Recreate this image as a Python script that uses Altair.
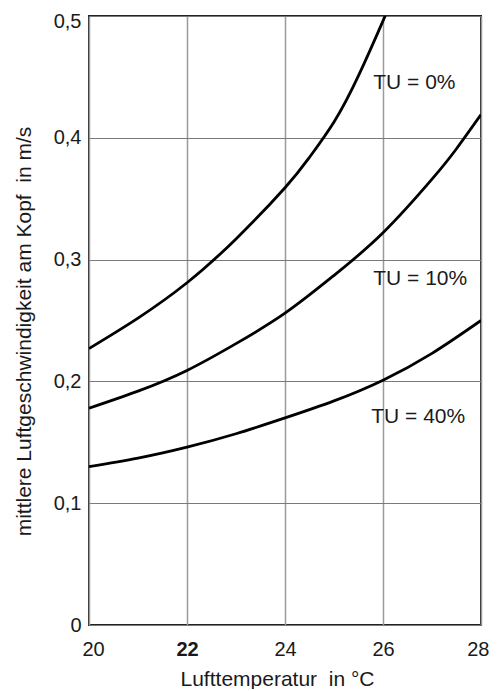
import altair as alt
import pandas as pd

# Series
tu0_x = [20, 21, 22, 23, 24, 24.5, 25, 25.5, 26, 26.04]
tu0_y = [0.227, 0.252, 0.281, 0.317, 0.359, 0.384, 0.413, 0.451, 0.496, 0.5]

tu10_x = [20, 21, 22, 23, 24, 25, 26, 27, 27.5, 28]
tu10_y = [0.178, 0.192, 0.209, 0.231, 0.256, 0.287, 0.322, 0.366, 0.391, 0.419]

tu40_x = [20, 21, 22, 23, 24, 25, 26, 27, 28]
tu40_y = [0.130, 0.137, 0.146, 0.157, 0.170, 0.184, 0.201, 0.223, 0.250]

label_text = ["TU = 0%", "TU = 10%", "TU = 40%"]
label_x = [25.8, 25.8, 25.76]
label_y = [0.445, 0.284, 0.171]

x_ticks = [20, 22, 24, 26, 28]
y_ticks = [0, 0.1, 0.2, 0.3, 0.4, 0.5]

x_title = "Lufttemperatur\u00a0 in °C"
y_title = "mittlere Luftgeschwindigkeit am Kopf\u00a0 in m/s"

rows = []
for name, xs, ys in [("TU0", tu0_x, tu0_y), ("TU10", tu10_x, tu10_y), ("TU40", tu40_x, tu40_y)]:
    for xv, yv in zip(xs, ys):
        rows.append({"series": name, "t": xv, "v": yv})
curves = pd.DataFrame(rows)
labels = pd.DataFrame({"text": label_text, "t": label_x, "v": label_y})

FONT = "Liberation Sans"

x_enc = alt.X(
    "t:Q",
    scale=alt.Scale(domain=[20, 28], nice=False, zero=False),
    axis=alt.Axis(
        values=x_ticks,
        format="d",
        title=x_title,
        grid=True,
        gridColor="#9a9a9a",
        gridWidth=1.5,
        domain=False,
        ticks=False,
        tickSize=0,
        labelPadding=30,
        labelBaseline="alphabetic",
        labelAlign={"condition": {"test": "datum.value == 28", "value": "right"}, "value": "center"},
        labelOffset={"condition": [
            {"test": "datum.value == 28", "value": 8},
            {"test": "datum.value == 20", "value": 4},
        ], "value": 0},
        labelFontSize=20,
        labelFont=FONT,
        labelColor="#1a1a1a",
        labelFontWeight={"condition": {"test": "datum.value == 22", "value": "bold"}, "value": "normal"},
        titleFont=FONT,
        titleFontSize=21,
        titleFontWeight="normal",
        titleColor="#1a1a1a",
        titleX=188,
        titleY=60,
        titleBaseline="alphabetic",
        labelFlush=False,
    ),
)

y_enc = alt.Y(
    "v:Q",
    scale=alt.Scale(domain=[0, 0.5], nice=False),
    axis=alt.Axis(
        values=y_ticks,
        labelExpr="datum.value == 0 ? '0' : replace(format(datum.value, '.1f'), '.', ',')",
        title=y_title,
        grid=True,
        gridColor="#7a7a7a",
        gridWidth=1.2,
        domain=False,
        ticks=False,
        tickSize=0,
        labelPadding=8,
        labelOffset={"condition": {"test": "datum.value == 0.5", "value": 5}, "value": 0},
        labelFontSize=20,
        labelFont=FONT,
        labelColor="#1a1a1a",
        labelFlush=False,
        titleFont=FONT,
        titleFontSize=21,
        titleFontWeight="normal",
        titleColor="#1a1a1a",
        titleX=-59,
        titleY=315,
        titleBaseline="alphabetic",
    ),
)

lines = alt.Chart(curves).mark_line(
    color="black", strokeWidth=2.8, interpolate="natural", clip=True
).encode(x=x_enc, y=y_enc, detail="series:N")

texts = alt.Chart(labels).mark_text(
    align="left", baseline="middle", font=FONT, fontSize=21, color="#1a1a1a"
).encode(x="t:Q", y="v:Q", text="text:N")

chart = (
    alt.layer(lines, texts)
    .properties(
        width=392,
        height=609,
        autosize=alt.AutoSizeParams(type="none"),
        padding={"left": 81, "top": 8, "right": 8, "bottom": 64},
        background="white",
    )
    .configure_view(stroke="#222222", strokeWidth=2)
)

chart.save("out.html", embed_options={"renderer": "svg", "actions": False})
